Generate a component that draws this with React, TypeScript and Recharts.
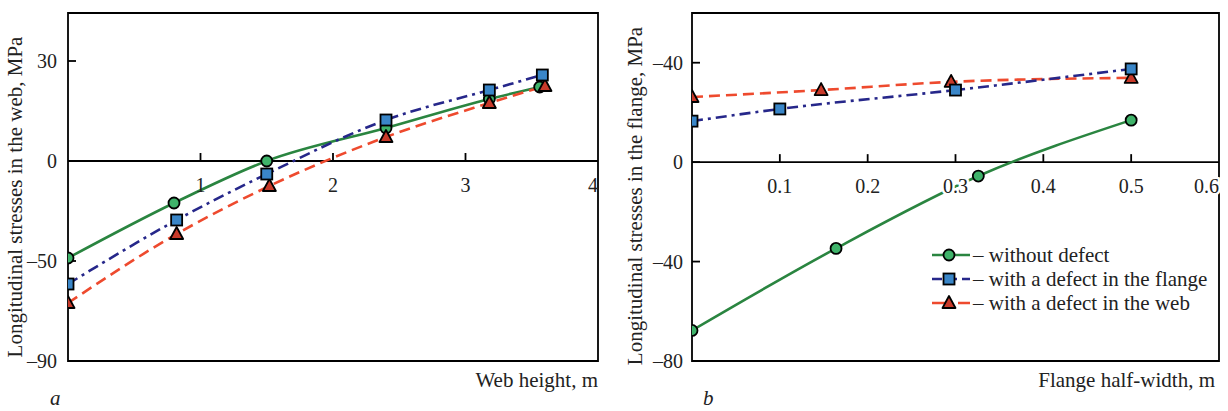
import React from "react";
import { LineChart, Line, XAxis, YAxis, ReferenceLine, ReferenceArea, ReferenceDot } from "recharts";

// chart a: web
const webXTicks = [1, 2, 3, 4];
const webYTicks = [30, 0, -30, -60];
const webYTickLabels = ["30", "0", "\u201350", "\u201390"];

const webNoDefectX = [0, 0.8, 1.5, 2.4, 3.18, 3.56];
const webNoDefectY = [-29.1, -12.6, 0, 9.9, 18.6, 22.2];
const webFlangeX = [0, 0.82, 1.5, 2.4, 3.18, 3.58];
const webFlangeY = [-36.9, -17.7, -3.9, 12.3, 21.3, 25.8];
const webWebX = [0, 0.82, 1.52, 2.4, 3.18, 3.6];
const webWebY = [-42.6, -21.9, -7.5, 7.2, 17.4, 22.5];

// chart b: flange
const flXTicks = [0.1, 0.2, 0.3, 0.4, 0.5, 0.6];
const flXTickLabels = ["0.1", "0.2", "0.3", "0.4", "0.5", "0.6"];
const flYTicks = [40, 0, -40, -80];
const flYTickLabels = ["\u201340", "0", "\u201340", "\u201380"];

const flNoDefectX = [0, 0.164, 0.326, 0.5];
const flNoDefectY = [-67.7, -34.7, -5.6, 16.9];
const flFlangeX = [0, 0.1, 0.3, 0.5];
const flFlangeY = [16.5, 21.4, 29.0, 37.5];
const flWebX = [0, 0.147, 0.295, 0.5];
const flWebY = [26.2, 29.0, 32.3, 33.9];

const legendLabels = ["\u2013 without defect", "\u2013 with a defect in the flange", "\u2013 with a defect in the web"];

const FONT = '"Times New Roman", "Liberation Serif", serif';
const TXT = "#222";
const GREEN = "#2a8540";
const GREEN_FILL = "#3fb36a";
const NAVY = "#26278a";
const BLUE_FILL = "#3a86c8";
const RED = "#ee4a2e";
const RED_FILL = "#c83a2a";

const zip = (xs: number[], ys: number[]) => xs.map((x, i) => ({ x, y: ys[i] }));

const Circle = (p: any) =>
  p.cx == null ? null : (
    <circle key={p.key} cx={p.cx} cy={p.cy} r={5.5} fill={GREEN_FILL} stroke="#000" strokeWidth={1.8} />
  );
const Square = (p: any) =>
  p.cx == null ? null : (
    <rect key={p.key} x={p.cx - 5.5} y={p.cy - 5.5} width={11} height={11} fill={BLUE_FILL} stroke="#000" strokeWidth={1.8} />
  );
const Triangle = (p: any) =>
  p.cx == null ? null : (
    <path
      key={p.key}
      d={`M${p.cx},${p.cy - 7} L${p.cx + 6.5},${p.cy + 5} L${p.cx - 6.5},${p.cy + 5} Z`}
      fill={RED_FILL}
      stroke="#000"
      strokeWidth={1.8}
      strokeLinejoin="round"
    />
  );

const xTick = (label: string, mark: boolean, anchor: string, halo: boolean) => (p: any) =>
  (
    <g>
      {mark && <line x1={p.cx} y1={p.cy} x2={p.cx} y2={p.cy - 8} stroke="#000" strokeWidth={1.8} />}
      <text
        x={p.cx}
        y={p.cy + 31}
        textAnchor={anchor}
        fontFamily={FONT}
        fontSize={20}
        fill={TXT}
        stroke={halo ? "#fff" : "none"}
        strokeWidth={halo ? 5 : 0}
        paintOrder="stroke"
      >
        {label}
      </text>
    </g>
  );

const tickStyle = { fill: TXT, fontSize: 20, fontFamily: FONT };

function WebChart() {
  return (
    <LineChart width={612} height={411} margin={{ top: 13, right: 14, bottom: 50, left: 67 }}>
      <XAxis type="number" dataKey="x" domain={[0, 4]} hide allowDataOverflow />
      <YAxis
        type="number"
        dataKey="y"
        domain={[-60, 44.4]}
        ticks={webYTicks}
        allowDataOverflow
        width={1}
        axisLine={false}
        tickSize={-8}
        tickMargin={19}
        tickLine={{ stroke: "#000", strokeWidth: 1.8 }}
        tick={tickStyle}
        tickFormatter={(v: number) => webYTickLabels[webYTicks.indexOf(v)]}
        interval={0}
      />
      <ReferenceArea x1={0} x2={4} y1={-60} y2={44.4} fill="none" stroke="#000" strokeWidth={1.8} />
      <ReferenceLine y={0} stroke="#000" strokeWidth={1.8} />
      {webXTicks.map((t, i) => (
        <ReferenceDot
          key={t}
          x={t}
          y={0}
          r={0}
          shape={xTick(String(t), i < webXTicks.length - 1, i < webXTicks.length - 1 ? "middle" : "end", false)}
        />
      ))}
      <Line data={zip(webNoDefectX, webNoDefectY)} dataKey="y" type="monotone" stroke={GREEN} strokeWidth={2.6} dot={Circle} isAnimationActive={false} />
      <Line data={zip(webWebX, webWebY)} dataKey="y" type="monotone" stroke={RED} strokeWidth={2.6} strokeDasharray="11 6" dot={Triangle} isAnimationActive={false} />
      <Line data={zip(webFlangeX, webFlangeY)} dataKey="y" type="monotone" stroke={NAVY} strokeWidth={2.6} strokeDasharray="11 5 3 5" dot={Square} isAnimationActive={false} />
    </LineChart>
  );
}

function FlangeChart() {
  return (
    <LineChart width={616} height={411} margin={{ top: 13, right: 9, bottom: 50, left: 79 }}>
      <XAxis type="number" dataKey="x" domain={[0, 0.6]} hide allowDataOverflow />
      <YAxis
        type="number"
        dataKey="y"
        domain={[-80, 60]}
        ticks={flYTicks}
        allowDataOverflow
        width={1}
        axisLine={false}
        tickSize={-8}
        tickMargin={17}
        tickLine={{ stroke: "#000", strokeWidth: 1.8 }}
        tick={tickStyle}
        tickFormatter={(v: number) => flYTickLabels[flYTicks.indexOf(v)]}
        interval={0}
      />
      <ReferenceArea x1={0} x2={0.6} y1={-80} y2={60} fill="none" stroke="#000" strokeWidth={1.8} />
      <ReferenceLine y={0} stroke="#000" strokeWidth={1.8} />
      <Line data={zip(flNoDefectX, flNoDefectY)} dataKey="y" type="monotone" stroke={GREEN} strokeWidth={2.6} dot={Circle} isAnimationActive={false} />
      <Line data={zip(flWebX, flWebY)} dataKey="y" type="monotone" stroke={RED} strokeWidth={2.6} strokeDasharray="11 6" dot={Triangle} isAnimationActive={false} />
      <Line data={zip(flFlangeX, flFlangeY)} dataKey="y" type="monotone" stroke={NAVY} strokeWidth={2.6} strokeDasharray="11 5 3 5" dot={Square} isAnimationActive={false} />
      {flXTicks.map((t, i) => (
        <ReferenceDot
          key={t}
          x={t}
          y={0}
          r={0}
          shape={xTick(flXTickLabels[i], i < flXTicks.length - 1, i < flXTicks.length - 1 ? "middle" : "end", true)}
        />
      ))}
    </LineChart>
  );
}

const legendIcons = [
  { stroke: GREEN, dash: undefined as string | undefined, Marker: Circle },
  { stroke: NAVY, dash: "10 5", Marker: Square },
  { stroke: RED, dash: "14 5 2 5", Marker: Triangle },
];

const textBase: React.CSSProperties = { position: "absolute", fontFamily: FONT, fontSize: 21, color: TXT, lineHeight: "21px", whiteSpace: "nowrap" };

export default function App() {
  return (
    <div style={{ position: "absolute", left: 0, top: 0, width: 1228, height: 411, background: "#fff", overflow: "hidden" }}>
      <div style={{ position: "absolute", left: 0, top: 0 }}>
        <WebChart />
      </div>
      <div style={{ position: "absolute", left: 612, top: 0 }}>
        <FlangeChart />
      </div>

      <div style={{ ...textBase, left: 15, top: 197, transform: "translate(-50%, -50%) rotate(-90deg)" }}>
        Longitudinal stresses in the web, MPa
      </div>
      <div style={{ ...textBase, left: 635, top: 196, transform: "translate(-50%, -50%) rotate(-90deg)" }}>
        Longitudinal stresses in the flange, MPa
      </div>

      <div style={{ ...textBase, left: 398, top: 370, width: 200, textAlign: "right" }}>Web height, m</div>
      <div style={{ ...textBase, left: 915, top: 370, width: 300, textAlign: "right" }}>Flange half-width, m</div>

      <div style={{ ...textBase, left: 50, top: 388, fontSize: 21, lineHeight: "21px", fontStyle: "italic" }}>a</div>
      <div style={{ ...textBase, left: 703, top: 388, fontSize: 21, lineHeight: "21px", fontStyle: "italic" }}>b</div>

      <div style={{ position: "absolute", left: 932, top: 243 }}>
        {legendLabels.map((label, i) => {
          const ic = legendIcons[i];
          return (
            <div key={label} style={{ display: "flex", alignItems: "center", height: 24 }}>
              <svg width={38} height={20} style={{ marginRight: 3 }}>
                <line x1={0} y1={10} x2={38} y2={10} stroke={ic.stroke} strokeWidth={2.6} strokeDasharray={ic.dash} />
                <ic.Marker cx={17} cy={10} />
              </svg>
              <span style={{ fontFamily: FONT, fontSize: 21, color: TXT, lineHeight: "21px", whiteSpace: "nowrap" }}>{label}</span>
            </div>
          );
        })}
      </div>
    </div>
  );
}
